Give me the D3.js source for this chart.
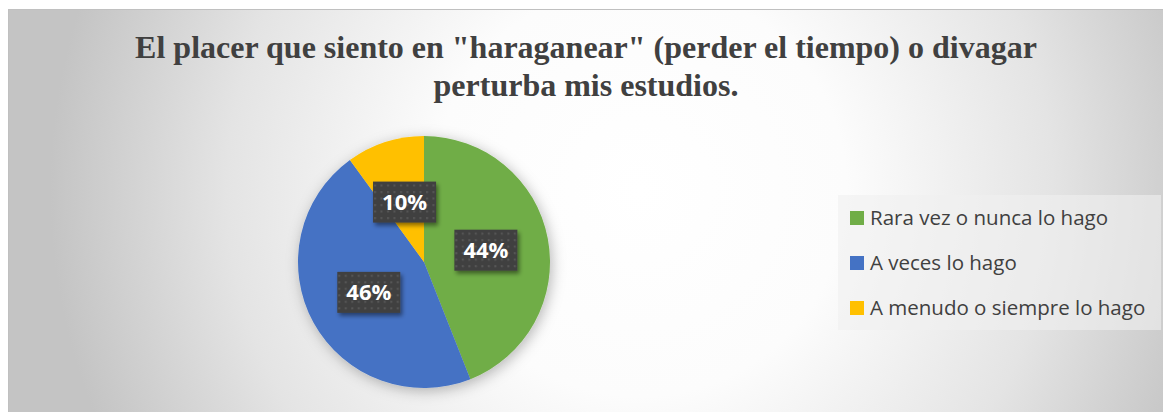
<!DOCTYPE html>
<html>
<head>
<meta charset="utf-8">
<script src="https://cdn.jsdelivr.net/npm/d3@7"></script>
<style>
  html, body { margin: 0; padding: 0; background: #ffffff; }
  svg { display: block; }
</style>
</head>
<body>
<svg id="chart" width="1163" height="412"></svg>
<script>
const categories = ["Rara vez o nunca lo hago", "A veces lo hago", "A menudo o siempre lo hago"];
const values = [44, 46, 10];
const colors = ["#70AD47", "#4472C4", "#FFC000"];
const labels = ["44%", "46%", "10%"];
const titleLines = ["El placer que siento en \"haraganear\" (perder el tiempo) o divagar", "perturba mis estudios."];

const svg = d3.select("#chart");
const W = 1163, H = 412;
const defs = svg.append("defs");

const bg = defs.append("radialGradient").attr("id", "bgGrad")
  .attr("gradientUnits", "userSpaceOnUse")
  .attr("cx", 640).attr("cy", 190).attr("r", 590);
bg.append("stop").attr("offset", "0").attr("stop-color", "#ffffff");
bg.append("stop").attr("offset", "0.35").attr("stop-color", "#fcfcfc");
bg.append("stop").attr("offset", "0.7").attr("stop-color", "#e4e4e4");
bg.append("stop").attr("offset", "1").attr("stop-color", "#c4c4c4");

const pat = defs.append("pattern").attr("id", "dots")
  .attr("patternUnits", "userSpaceOnUse").attr("width", 6.5).attr("height", 6.5);
pat.append("rect").attr("width", 6.5).attr("height", 6.5).attr("fill", "#404040");
pat.append("rect").attr("x", 2).attr("y", 2).attr("width", 2).attr("height", 2).attr("fill", "#575757");

const pieShadow = defs.append("filter").attr("id", "pieShadow")
  .attr("x", "-30%").attr("y", "-30%").attr("width", "160%").attr("height", "160%");
pieShadow.append("feDropShadow").attr("dx", 2).attr("dy", 3).attr("stdDeviation", 7)
  .attr("flood-color", "#000").attr("flood-opacity", 0.28);

const boxShadow = defs.append("filter").attr("id", "boxShadow")
  .attr("x", "-30%").attr("y", "-30%").attr("width", "160%").attr("height", "160%");
boxShadow.append("feDropShadow").attr("dx", 2).attr("dy", 3).attr("stdDeviation", 2)
  .attr("flood-color", "#000").attr("flood-opacity", 0.45);

// chart area
svg.append("rect").attr("x", 8).attr("y", 9).attr("width", W - 8).attr("height", H - 9)
  .attr("fill", "url(#bgGrad)");
svg.append("path").attr("d", `M8.5,${H} L8.5,9.5 L${W},9.5`)
  .attr("fill", "none").attr("stroke", "#c0c0c0").attr("stroke-width", 1);

// title
svg.append("text")
  .attr("x", 586).attr("text-anchor", "middle")
  .attr("font-family", "'Liberation Serif', 'Times New Roman', serif")
  .attr("font-weight", "bold").attr("font-size", 32).attr("fill", "#404040")
  .selectAll("tspan").data(titleLines).join("tspan")
  .attr("x", 586).attr("y", (d, i) => 58 + i * 38).text(d => d);

// pie
const cx = 424, cy = 262, R = 126;
const pie = d3.pie().sort(null).value(d => d);
const arcs = pie(values);
const arc = d3.arc().innerRadius(0).outerRadius(R);
const g = svg.append("g").attr("transform", `translate(${cx},${cy})`);
g.append("g").attr("filter", "url(#pieShadow)")
  .selectAll("path").data(arcs).join("path")
  .attr("d", arc).attr("fill", (d, i) => colors[i]);

const lab = g.selectAll("g.lab").data(arcs).join("g").attr("class", "lab")
  .attr("transform", d => `translate(${arc.centroid(d)})`);
lab.append("rect").attr("x", -31.5).attr("y", -20.5).attr("width", 63).attr("height", 41)
  .attr("fill", "url(#dots)").attr("filter", "url(#boxShadow)");
lab.append("text").attr("text-anchor", "middle").attr("dy", "0.36em")
  .attr("font-family", "'Open Sans', sans-serif").attr("font-weight", "bold")
  .attr("font-size", 22).attr("fill", "#ffffff")
  .text((d, i) => labels[i]);

// legend
const lg = svg.append("g");
lg.append("rect").attr("x", 838).attr("y", 195).attr("width", 323).attr("height", 135)
  .attr("fill", "#f0f0f0").attr("fill-opacity", 0.6);
const item = lg.selectAll("g.item").data(categories).join("g").attr("class", "item")
  .attr("transform", (d, i) => `translate(850,${218 + i * 45})`);
item.append("rect").attr("x", 0).attr("y", -7).attr("width", 14).attr("height", 14)
  .attr("fill", (d, i) => colors[i]);
item.append("text").attr("x", 20).attr("y", 6.5)
  .attr("font-family", "'Open Sans', sans-serif").attr("font-size", 20.5).attr("fill", "#404040")
  .text(d => d);
</script>
</body>
</html>
